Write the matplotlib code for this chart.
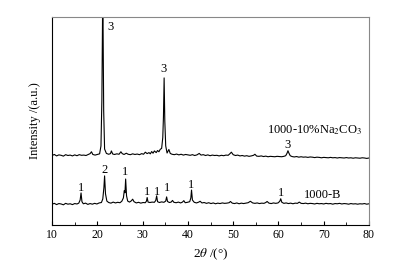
import matplotlib
matplotlib.use("Agg")
import matplotlib.pyplot as plt

plt.rcParams['font.family'] = ['Liberation Serif', 'DejaVu Serif']
plt.rcParams['mathtext.fontset'] = 'stix'

# 1000-B pattern (2theta, intensity)
b_x = [10.0, 10.5, 11.0, 11.5, 12.0, 12.5, 13.0, 13.5, 14.0, 14.5,
       15.0, 15.5, 15.9, 16.2, 16.4, 16.6, 16.9, 17.4, 17.9, 18.4,
       18.9, 19.4, 19.9, 20.4, 20.9, 21.2, 21.45, 21.6, 21.8, 22.1,
       22.5, 23.0, 23.5, 24.0, 24.5, 25.0, 25.4, 25.75, 25.95, 26.1,
       26.25, 26.45, 26.7, 27.1, 27.5, 27.8, 28.1, 28.6, 29.1, 29.6,
       30.1, 30.6, 30.85, 31.0, 31.2, 31.6, 32.1, 32.6, 32.9, 33.1,
       33.3, 33.7, 34.2, 34.7, 35.1, 35.3, 35.5, 35.9, 36.3, 36.6,
       36.9, 37.4, 37.9, 38.4, 38.8, 39.1, 39.4, 39.9, 40.4, 40.65,
       40.8, 41.0, 41.4, 41.9, 42.4, 42.7, 43.1, 43.6, 44.1, 44.6,
       45.1, 45.6, 46.1, 46.6, 47.1, 47.6, 48.1, 48.6, 49.1, 49.4,
       49.8, 50.3, 50.8, 51.3, 51.8, 52.3, 52.8, 53.3, 53.8, 54.3,
       54.8, 55.3, 55.8, 56.3, 56.8, 57.2, 57.5, 57.9, 58.4, 58.9,
       59.4, 59.9, 60.3, 60.5, 60.75, 61.2, 61.7, 62.2, 62.7, 63.2,
       63.7, 64.2, 64.6, 65.0, 65.5, 66.0, 66.5, 67.0, 67.5, 68.0,
       68.5, 69.0, 69.5, 70.0, 70.5, 71.0, 71.5, 72.0, 72.5, 73.0,
       73.5, 74.0, 74.5, 75.0, 75.5, 76.0, 76.5, 77.0, 77.5, 78.0,
       78.5, 79.0, 79.5, 80.0]
b_y = [10.0, 10.4, 9.8, 10.3, 10.1, 9.7, 10.4, 10.0, 10.2, 9.8,
       10.3, 10.1, 10.5, 12.0, 15.4, 11.2, 10.2, 10.5, 9.9, 10.3,
       10.0, 10.4, 10.1, 10.6, 10.8, 12.5, 18.0, 23.6, 15.0, 11.5,
       10.8, 10.5, 11.0, 10.6, 10.9, 10.7, 11.4, 13.0, 16.5, 15.5,
       22.1, 14.0, 11.5, 11.0, 11.6, 12.4, 11.2, 10.6, 10.9, 10.5,
       10.8, 10.7, 11.5, 13.2, 11.0, 10.8, 11.0, 10.9, 11.8, 14.0,
       11.2, 10.8, 11.1, 10.9, 11.5, 13.5, 11.3, 10.8, 11.0, 11.8,
       10.9, 10.7, 11.0, 10.6, 11.0, 11.7, 10.7, 10.9, 11.2, 13.0,
       16.8, 12.0, 10.9, 10.6, 11.0, 11.4, 10.6, 10.8, 10.4, 10.7,
       10.3, 10.6, 10.2, 10.5, 10.3, 10.6, 10.4, 10.5, 10.7, 11.3,
       10.5, 10.3, 10.6, 10.2, 10.5, 10.3, 10.5, 10.7, 11.4, 10.6,
       10.4, 10.6, 10.3, 10.5, 10.4, 10.8, 11.3, 10.5, 10.3, 10.6,
       10.4, 10.6, 11.4, 12.6, 10.9, 10.4, 10.6, 10.3, 10.5, 10.2,
       10.5, 10.4, 11.0, 10.4, 10.3, 10.5, 10.2, 10.4, 10.3, 10.1,
       10.4, 10.2, 10.3, 10.1, 10.4, 10.2, 10.3, 10.0, 10.3, 10.2,
       10.4, 10.1, 10.3, 10.2, 10.0, 10.3, 10.1, 10.2, 10.0, 10.2,
       10.1, 10.3, 10.0, 10.2]

# 1000-10%Na2CO3 pattern
na_x = [10.0, 10.5, 11.0, 11.5, 12.0, 12.5, 13.0, 13.5, 14.0, 14.5,
        15.0, 15.5, 16.0, 16.5, 17.0, 17.5, 18.0, 18.4, 18.7, 19.0,
        19.5, 20.0, 20.5, 20.8, 21.0, 21.2, 21.4, 21.6, 22.0, 22.5,
        22.9, 23.1, 23.4, 23.8, 24.3, 24.8, 25.2, 25.5, 25.9, 26.4,
        26.8, 27.3, 27.8, 28.3, 28.8, 29.3, 29.8, 30.2, 30.6, 31.0,
        31.4, 31.7, 32.0, 32.3, 32.6, 33.0, 33.3, 33.6, 33.9, 34.2,
        34.45, 34.6, 34.75, 34.9, 35.1, 35.4, 35.8, 36.1, 36.5, 37.0,
        37.5, 38.0, 38.5, 39.0, 39.5, 40.0, 40.5, 41.0, 41.5, 42.0,
        42.5, 42.9, 43.4, 43.9, 44.4, 44.9, 45.4, 45.9, 46.4, 46.9,
        47.4, 47.9, 48.4, 48.9, 49.3, 49.6, 50.0, 50.5, 51.0, 51.5,
        52.0, 52.5, 53.0, 53.5, 54.0, 54.5, 54.8, 55.2, 55.7, 56.2,
        56.7, 57.2, 57.7, 58.2, 58.7, 59.2, 59.7, 60.2, 60.7, 61.2,
        61.6, 61.9, 62.1, 62.3, 62.6, 63.0, 63.5, 64.0, 64.5, 65.0,
        65.5, 66.0, 66.5, 67.0, 67.5, 68.0, 68.5, 69.0, 69.5, 70.0,
        70.5, 71.0, 71.5, 72.0, 72.5, 73.0, 73.5, 74.0, 74.5, 75.0,
        75.5, 76.0, 76.5, 77.0, 77.5, 78.0, 78.5, 79.0, 79.5, 80.0]
na_y = [33.4, 33.9, 33.2, 33.7, 33.5, 33.1, 33.8, 33.4, 33.6, 33.2,
        33.7, 33.3, 33.8, 33.5, 33.6, 33.4, 33.9, 34.3, 35.2, 33.9,
        33.6, 33.9, 34.2, 38.0, 60.0, 115.0, 55.0, 36.5, 34.4, 34.0,
        34.3, 35.6, 34.1, 33.9, 34.2, 34.0, 35.2, 34.3, 33.9, 34.5,
        34.0, 33.8, 34.2, 33.9, 34.1, 33.8, 34.3, 34.0, 35.0, 34.3,
        34.8, 34.2, 35.3, 34.5, 35.6, 34.8, 35.8, 35.2, 36.4, 36.8,
        42.0, 52.0, 70.7, 50.0, 38.0, 34.6, 36.3, 34.4, 34.0, 33.8,
        34.1, 33.7, 34.0, 33.6, 33.9, 33.7, 33.5, 33.8, 33.4, 33.7,
        34.4, 33.6, 33.8, 33.4, 33.7, 33.3, 33.6, 33.4, 33.5, 33.2,
        33.5, 33.3, 33.6, 33.5, 34.3, 35.0, 33.8, 33.4, 33.6, 33.2,
        33.4, 33.1, 33.3, 33.0, 33.2, 33.5, 34.0, 33.1, 33.0, 33.2,
        32.9, 33.1, 32.8, 33.0, 32.9, 32.8, 33.0, 32.9, 32.8, 33.0,
        33.3, 34.5, 35.7, 34.6, 33.3, 32.9, 32.7, 32.9, 32.6, 32.8,
        32.6, 32.7, 32.5, 32.7, 32.6, 32.4, 32.6, 32.5, 32.3, 32.5,
        32.4, 32.3, 32.5, 32.3, 32.4, 32.2, 32.4, 32.3, 32.2, 32.4,
        32.2, 32.3, 32.1, 32.3, 32.2, 32.1, 32.3, 32.2, 32.0, 32.2]

# phase marks: (label, 2theta, height)
b_marks = [("1", 16.4, 17.8), ("2", 21.6, 26.4), ("1", 26.2, 25.5),
           ("1", 31.0, 15.9), ("1", 33.1, 15.9), ("1", 35.3, 17.8),
           ("1", 40.8, 19.2), ("1", 60.5, 15.4)]
na_marks = [("3", 22.9, 95.0), ("3", 34.7, 75.0), ("3", 62.1, 38.5)]

fs = 9

fig = plt.figure(figsize=(4.1, 2.65), dpi=100)
ax = fig.add_axes([0.127, 0.151, 0.773, 0.785])

ax.plot(na_x, na_y, color='black', lw=0.8)
ax.plot(b_x, b_y, color='black', lw=0.8)

for s, x, y in b_marks + na_marks:
    ax.text(x, y, s, ha='center', va='center', fontsize=fs)

ax.text(78.4, 45.5, "1000-10%Na$_2$CO$_3$", ha='right', va='center', fontsize=fs)
ax.text(69.7, 14.6, "1000-B", ha='center', va='center', fontsize=fs)

ax.set_xlim(10, 80)
ax.set_ylim(0, 100)
ax.set_xticks(range(10, 81, 10))
ax.set_xticks(range(15, 80, 10), minor=True)
ax.set_yticks([])
ax.tick_params(axis='x', direction='in', length=3, labelsize=8.5, pad=3)
ax.tick_params(axis='x', which='minor', direction='in', length=2)
for sp in ['top', 'right']:
    ax.spines[sp].set_color('#888888')
for sp in ax.spines.values():
    sp.set_linewidth(0.8)

ax.set_xlabel(r"2$\it{\theta}$ /(°)", fontsize=9.5, labelpad=4)
ax.set_ylabel("Intensity /(a.u.)", fontsize=9, labelpad=8)

fig.savefig("out.png", dpi=100)
